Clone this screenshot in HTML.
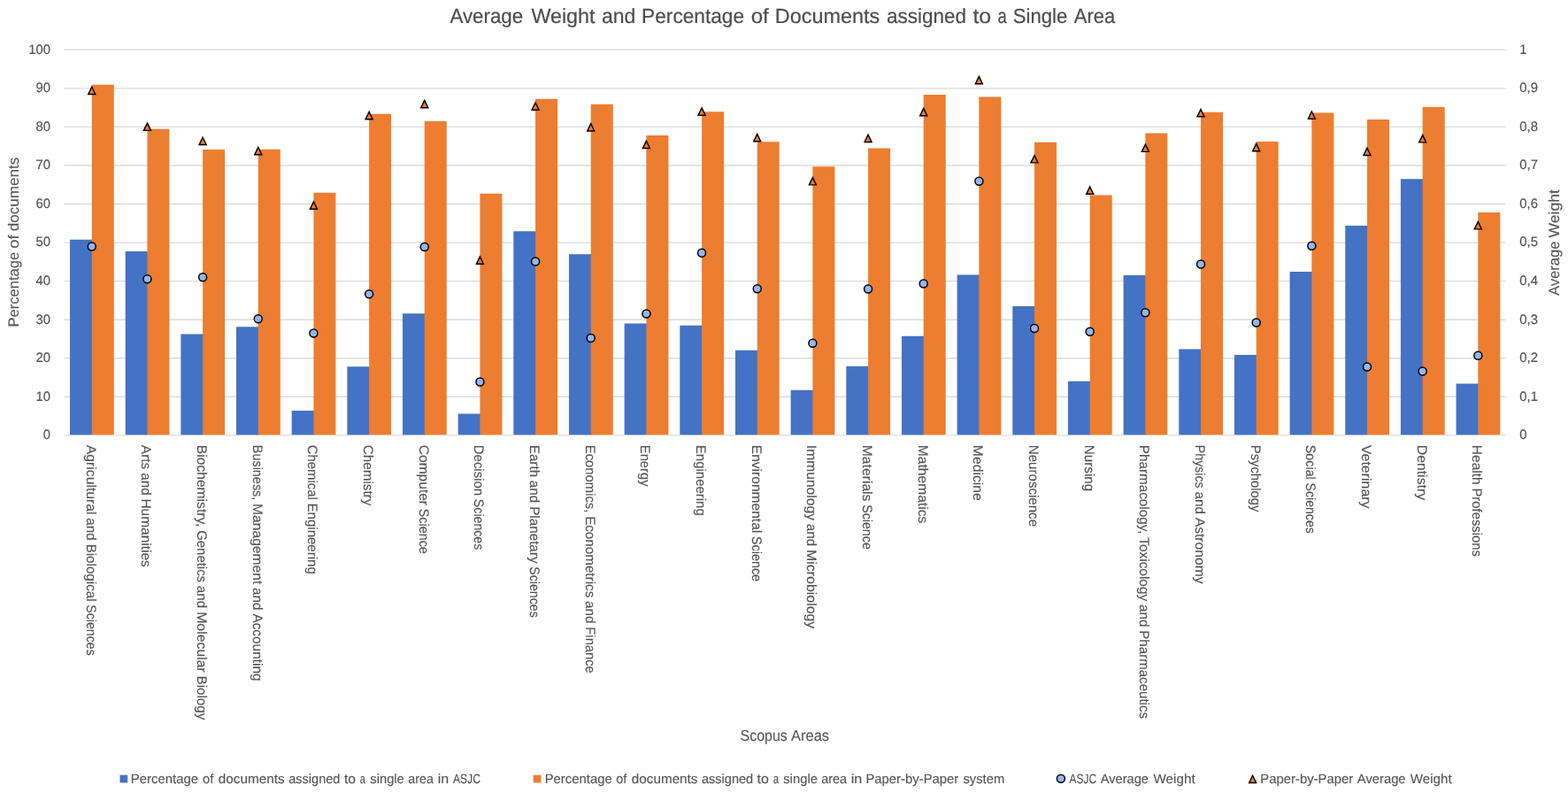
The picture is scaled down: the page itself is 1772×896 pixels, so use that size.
<!DOCTYPE html>
<html lang="en"><head><meta charset="utf-8"><title>Average Weight and Percentage of Documents assigned to a Single Area</title>
<style>html,body{margin:0;padding:0;background:#fff;}body{width:1772px;height:896px;overflow:hidden;}svg{display:block;}text{font-family:"Liberation Sans",sans-serif;fill:#535353;stroke:#535353;stroke-width:0.12px;text-rendering:geometricPrecision;}.t{fill:#4d4d4d;stroke:#4d4d4d;stroke-width:0.2px}.m{fill:#555;stroke:#555;stroke-width:0.1px}.d{fill:#525252;stroke:#525252;stroke-width:0.15px}</style></head><body>
<svg width="1772" height="896" viewBox="0 0 1772 896">
<rect width="1772" height="896" fill="#fff"/>
<g stroke="#DCDCDC" stroke-width="1.4" fill="none">
<line x1="72.30" y1="448.30" x2="1701.80" y2="448.30"/>
<line x1="72.30" y1="404.74" x2="1701.80" y2="404.74"/>
<line x1="72.30" y1="361.19" x2="1701.80" y2="361.19"/>
<line x1="72.30" y1="317.63" x2="1701.80" y2="317.63"/>
<line x1="72.30" y1="274.08" x2="1701.80" y2="274.08"/>
<line x1="72.30" y1="230.52" x2="1701.80" y2="230.52"/>
<line x1="72.30" y1="186.97" x2="1701.80" y2="186.97"/>
<line x1="72.30" y1="143.41" x2="1701.80" y2="143.41"/>
<line x1="72.30" y1="99.86" x2="1701.80" y2="99.86"/>
<line x1="72.30" y1="56.30" x2="1701.80" y2="56.30"/>
<path d="M72.30 491.85H79.03M128.78 491.85H141.69M191.44 491.85H204.36M254.11 491.85H267.02M316.77 491.85H329.68M379.43 491.85H392.34M442.09 491.85H455.00M504.75 491.85H517.66M567.41 491.85H580.33M630.08 491.85H642.99M692.74 491.85H705.65M755.40 491.85H768.31M818.06 491.85H830.98M880.73 491.85H893.64M943.39 491.85H956.30M1006.05 491.85H1018.96M1068.71 491.85H1081.62M1131.37 491.85H1144.29M1194.04 491.85H1206.95M1256.70 491.85H1269.61M1319.36 491.85H1332.27M1382.02 491.85H1394.93M1444.68 491.85H1457.60M1507.35 491.85H1520.26M1570.01 491.85H1582.92M1632.67 491.85H1645.58M1695.33 491.85H1701.80"/>
</g>
<g fill="#4472C4">
<rect x="79.03" y="270.75" width="25.75" height="220.70"/>
<rect x="141.69" y="284.00" width="25.75" height="207.45"/>
<rect x="204.36" y="377.50" width="25.75" height="113.95"/>
<rect x="267.02" y="369.25" width="25.75" height="122.20"/>
<rect x="329.68" y="464.00" width="25.75" height="27.45"/>
<rect x="392.34" y="414.25" width="25.75" height="77.20"/>
<rect x="455.00" y="354.25" width="25.75" height="137.20"/>
<rect x="517.66" y="467.50" width="25.75" height="23.95"/>
<rect x="580.33" y="261.25" width="25.75" height="230.20"/>
<rect x="642.99" y="287.25" width="25.75" height="204.20"/>
<rect x="705.65" y="365.50" width="25.75" height="125.95"/>
<rect x="768.31" y="367.75" width="25.75" height="123.70"/>
<rect x="830.98" y="395.75" width="25.75" height="95.70"/>
<rect x="893.64" y="440.75" width="25.75" height="50.70"/>
<rect x="956.30" y="413.75" width="25.75" height="77.70"/>
<rect x="1018.96" y="379.75" width="25.75" height="111.70"/>
<rect x="1081.62" y="310.50" width="25.75" height="180.95"/>
<rect x="1144.29" y="346.00" width="25.75" height="145.45"/>
<rect x="1206.95" y="430.75" width="25.75" height="60.70"/>
<rect x="1269.61" y="311.00" width="25.75" height="180.45"/>
<rect x="1332.27" y="394.50" width="25.75" height="96.95"/>
<rect x="1394.93" y="401.00" width="25.75" height="90.45"/>
<rect x="1457.60" y="307.00" width="25.75" height="184.45"/>
<rect x="1520.26" y="255.00" width="25.75" height="236.45"/>
<rect x="1582.92" y="202.25" width="25.75" height="289.20"/>
<rect x="1645.58" y="433.50" width="25.75" height="57.95"/>
</g>
<g fill="#ED7D31">
<rect x="103.78" y="95.75" width="25.00" height="395.70"/>
<rect x="166.44" y="145.75" width="25.00" height="345.70"/>
<rect x="229.11" y="169.00" width="25.00" height="322.45"/>
<rect x="291.77" y="168.75" width="25.00" height="322.70"/>
<rect x="354.43" y="217.75" width="25.00" height="273.70"/>
<rect x="417.09" y="128.75" width="25.00" height="362.70"/>
<rect x="479.75" y="137.00" width="25.00" height="354.45"/>
<rect x="542.41" y="218.75" width="25.00" height="272.70"/>
<rect x="605.08" y="111.75" width="25.00" height="379.70"/>
<rect x="667.74" y="117.75" width="25.00" height="373.70"/>
<rect x="730.40" y="153.00" width="25.00" height="338.45"/>
<rect x="793.06" y="126.25" width="25.00" height="365.20"/>
<rect x="855.73" y="160.25" width="25.00" height="331.20"/>
<rect x="918.39" y="188.25" width="25.00" height="303.20"/>
<rect x="981.05" y="167.50" width="25.00" height="323.95"/>
<rect x="1043.71" y="107.00" width="25.00" height="384.45"/>
<rect x="1106.37" y="109.50" width="25.00" height="381.95"/>
<rect x="1169.04" y="160.75" width="25.00" height="330.70"/>
<rect x="1231.70" y="220.50" width="25.00" height="270.95"/>
<rect x="1294.36" y="150.50" width="25.00" height="340.95"/>
<rect x="1357.02" y="126.75" width="25.00" height="364.70"/>
<rect x="1419.68" y="160.00" width="25.00" height="331.45"/>
<rect x="1482.35" y="127.50" width="25.00" height="363.95"/>
<rect x="1545.01" y="135.00" width="25.00" height="356.45"/>
<rect x="1607.67" y="121.00" width="25.00" height="370.45"/>
<rect x="1670.33" y="240.00" width="25.00" height="251.45"/>
</g>
<g>
<circle cx="103.78" cy="278.50" r="4.5" fill="#95B5EE" stroke="#000" stroke-width="1.5"/>
<circle cx="166.44" cy="315.25" r="4.5" fill="#95B5EE" stroke="#000" stroke-width="1.5"/>
<circle cx="229.11" cy="313.25" r="4.5" fill="#95B5EE" stroke="#000" stroke-width="1.5"/>
<circle cx="291.77" cy="360.25" r="4.5" fill="#95B5EE" stroke="#000" stroke-width="1.5"/>
<circle cx="354.43" cy="376.50" r="4.5" fill="#95B5EE" stroke="#000" stroke-width="1.5"/>
<circle cx="417.09" cy="332.25" r="4.5" fill="#95B5EE" stroke="#000" stroke-width="1.5"/>
<circle cx="479.75" cy="279.00" r="4.5" fill="#95B5EE" stroke="#000" stroke-width="1.5"/>
<circle cx="542.41" cy="431.50" r="4.5" fill="#95B5EE" stroke="#000" stroke-width="1.5"/>
<circle cx="605.08" cy="295.50" r="4.5" fill="#95B5EE" stroke="#000" stroke-width="1.5"/>
<circle cx="667.74" cy="382.00" r="4.5" fill="#95B5EE" stroke="#000" stroke-width="1.5"/>
<circle cx="730.40" cy="354.50" r="4.5" fill="#95B5EE" stroke="#000" stroke-width="1.5"/>
<circle cx="793.06" cy="285.75" r="4.5" fill="#95B5EE" stroke="#000" stroke-width="1.5"/>
<circle cx="855.73" cy="326.25" r="4.5" fill="#95B5EE" stroke="#000" stroke-width="1.5"/>
<circle cx="918.39" cy="387.75" r="4.5" fill="#95B5EE" stroke="#000" stroke-width="1.5"/>
<circle cx="981.05" cy="326.50" r="4.5" fill="#95B5EE" stroke="#000" stroke-width="1.5"/>
<circle cx="1043.71" cy="320.50" r="4.5" fill="#95B5EE" stroke="#000" stroke-width="1.5"/>
<circle cx="1106.37" cy="204.75" r="4.5" fill="#95B5EE" stroke="#000" stroke-width="1.5"/>
<circle cx="1169.04" cy="371.00" r="4.5" fill="#95B5EE" stroke="#000" stroke-width="1.5"/>
<circle cx="1231.70" cy="374.75" r="4.5" fill="#95B5EE" stroke="#000" stroke-width="1.5"/>
<circle cx="1294.36" cy="353.25" r="4.5" fill="#95B5EE" stroke="#000" stroke-width="1.5"/>
<circle cx="1357.02" cy="298.50" r="4.5" fill="#95B5EE" stroke="#000" stroke-width="1.5"/>
<circle cx="1419.68" cy="364.50" r="4.5" fill="#95B5EE" stroke="#000" stroke-width="1.5"/>
<circle cx="1482.35" cy="277.75" r="4.5" fill="#95B5EE" stroke="#000" stroke-width="1.5"/>
<circle cx="1545.01" cy="414.50" r="4.5" fill="#95B5EE" stroke="#000" stroke-width="1.5"/>
<circle cx="1607.67" cy="419.50" r="4.5" fill="#95B5EE" stroke="#000" stroke-width="1.5"/>
<circle cx="1670.33" cy="401.75" r="4.5" fill="#95B5EE" stroke="#000" stroke-width="1.5"/>
</g><g>
<path d="M103.78 98.25 L107.78 106.50 L99.78 106.50 Z" fill="#ED7D31" stroke="#000" stroke-width="1.45" stroke-linejoin="miter" stroke-miterlimit="6"/>
<path d="M166.44 139.10 L170.44 147.35 L162.44 147.35 Z" fill="#ED7D31" stroke="#000" stroke-width="1.45" stroke-linejoin="miter" stroke-miterlimit="6"/>
<path d="M229.11 155.25 L233.11 163.50 L225.11 163.50 Z" fill="#ED7D31" stroke="#000" stroke-width="1.45" stroke-linejoin="miter" stroke-miterlimit="6"/>
<path d="M291.77 166.40 L295.77 174.65 L287.77 174.65 Z" fill="#ED7D31" stroke="#000" stroke-width="1.45" stroke-linejoin="miter" stroke-miterlimit="6"/>
<path d="M354.43 227.90 L358.43 236.15 L350.43 236.15 Z" fill="#ED7D31" stroke="#000" stroke-width="1.45" stroke-linejoin="miter" stroke-miterlimit="6"/>
<path d="M417.09 126.40 L421.09 134.65 L413.09 134.65 Z" fill="#ED7D31" stroke="#000" stroke-width="1.45" stroke-linejoin="miter" stroke-miterlimit="6"/>
<path d="M479.75 113.40 L483.75 121.65 L475.75 121.65 Z" fill="#ED7D31" stroke="#000" stroke-width="1.45" stroke-linejoin="miter" stroke-miterlimit="6"/>
<path d="M542.41 290.00 L546.41 298.25 L538.41 298.25 Z" fill="#ED7D31" stroke="#000" stroke-width="1.45" stroke-linejoin="miter" stroke-miterlimit="6"/>
<path d="M605.08 116.00 L609.08 124.25 L601.08 124.25 Z" fill="#ED7D31" stroke="#000" stroke-width="1.45" stroke-linejoin="miter" stroke-miterlimit="6"/>
<path d="M667.74 139.75 L671.74 148.00 L663.74 148.00 Z" fill="#ED7D31" stroke="#000" stroke-width="1.45" stroke-linejoin="miter" stroke-miterlimit="6"/>
<path d="M730.40 159.25 L734.40 167.50 L726.40 167.50 Z" fill="#ED7D31" stroke="#000" stroke-width="1.45" stroke-linejoin="miter" stroke-miterlimit="6"/>
<path d="M793.06 121.90 L797.06 130.15 L789.06 130.15 Z" fill="#ED7D31" stroke="#000" stroke-width="1.45" stroke-linejoin="miter" stroke-miterlimit="6"/>
<path d="M855.73 151.50 L859.73 159.75 L851.73 159.75 Z" fill="#ED7D31" stroke="#000" stroke-width="1.45" stroke-linejoin="miter" stroke-miterlimit="6"/>
<path d="M918.39 200.60 L922.39 208.85 L914.39 208.85 Z" fill="#ED7D31" stroke="#000" stroke-width="1.45" stroke-linejoin="miter" stroke-miterlimit="6"/>
<path d="M981.05 152.25 L985.05 160.50 L977.05 160.50 Z" fill="#ED7D31" stroke="#000" stroke-width="1.45" stroke-linejoin="miter" stroke-miterlimit="6"/>
<path d="M1043.71 122.40 L1047.71 130.65 L1039.71 130.65 Z" fill="#ED7D31" stroke="#000" stroke-width="1.45" stroke-linejoin="miter" stroke-miterlimit="6"/>
<path d="M1106.37 86.40 L1110.37 94.65 L1102.37 94.65 Z" fill="#ED7D31" stroke="#000" stroke-width="1.45" stroke-linejoin="miter" stroke-miterlimit="6"/>
<path d="M1169.04 175.60 L1173.04 183.85 L1165.04 183.85 Z" fill="#ED7D31" stroke="#000" stroke-width="1.45" stroke-linejoin="miter" stroke-miterlimit="6"/>
<path d="M1231.70 211.00 L1235.70 219.25 L1227.70 219.25 Z" fill="#ED7D31" stroke="#000" stroke-width="1.45" stroke-linejoin="miter" stroke-miterlimit="6"/>
<path d="M1294.36 163.10 L1298.36 171.35 L1290.36 171.35 Z" fill="#ED7D31" stroke="#000" stroke-width="1.45" stroke-linejoin="miter" stroke-miterlimit="6"/>
<path d="M1357.02 123.50 L1361.02 131.75 L1353.02 131.75 Z" fill="#ED7D31" stroke="#000" stroke-width="1.45" stroke-linejoin="miter" stroke-miterlimit="6"/>
<path d="M1419.68 162.40 L1423.68 170.65 L1415.68 170.65 Z" fill="#ED7D31" stroke="#000" stroke-width="1.45" stroke-linejoin="miter" stroke-miterlimit="6"/>
<path d="M1482.35 126.00 L1486.35 134.25 L1478.35 134.25 Z" fill="#ED7D31" stroke="#000" stroke-width="1.45" stroke-linejoin="miter" stroke-miterlimit="6"/>
<path d="M1545.01 167.25 L1549.01 175.50 L1541.01 175.50 Z" fill="#ED7D31" stroke="#000" stroke-width="1.45" stroke-linejoin="miter" stroke-miterlimit="6"/>
<path d="M1607.67 152.60 L1611.67 160.85 L1603.67 160.85 Z" fill="#ED7D31" stroke="#000" stroke-width="1.45" stroke-linejoin="miter" stroke-miterlimit="6"/>
<path d="M1670.33 250.60 L1674.33 258.85 L1666.33 258.85 Z" fill="#ED7D31" stroke="#000" stroke-width="1.45" stroke-linejoin="miter" stroke-miterlimit="6"/>
</g>
<text transform="translate(508.20 25.80) rotate(0.02)" font-size="23.30" class="t"><tspan x="0.26" textLength="82.74" lengthAdjust="spacingAndGlyphs">Average</tspan> <tspan x="92.19" textLength="72.13" lengthAdjust="spacingAndGlyphs">Weight</tspan> <tspan x="171.74" textLength="38.42" lengthAdjust="spacingAndGlyphs">and</tspan> <tspan x="216.92" textLength="115.97" lengthAdjust="spacingAndGlyphs">Percentage</tspan> <tspan x="340.56" textLength="20.05" lengthAdjust="spacingAndGlyphs">of</tspan> <tspan x="367.66" textLength="118.37" lengthAdjust="spacingAndGlyphs">Documents</tspan> <tspan x="493.74" textLength="90.13" lengthAdjust="spacingAndGlyphs">assigned</tspan> <tspan x="591.24" textLength="20.77" lengthAdjust="spacingAndGlyphs">to</tspan> <tspan x="619.43" textLength="10.22" lengthAdjust="spacingAndGlyphs">a</tspan> <tspan x="636.48" textLength="61.67" lengthAdjust="spacingAndGlyphs">Single</tspan> <tspan x="705.66" textLength="46.42" lengthAdjust="spacingAndGlyphs">Area</tspan></text>
<text transform="translate(48.65 496.25) rotate(0.02)" font-size="15.30" class="d" textLength="8.25" lengthAdjust="spacingAndGlyphs">0</text>
<text transform="translate(40.40 452.69) rotate(0.02)" font-size="15.30" class="d" textLength="16.50" lengthAdjust="spacingAndGlyphs">10</text>
<text transform="translate(40.40 409.14) rotate(0.02)" font-size="15.30" class="d" textLength="16.50" lengthAdjust="spacingAndGlyphs">20</text>
<text transform="translate(40.40 365.58) rotate(0.02)" font-size="15.30" class="d" textLength="16.50" lengthAdjust="spacingAndGlyphs">30</text>
<text transform="translate(40.40 322.03) rotate(0.02)" font-size="15.30" class="d" textLength="16.50" lengthAdjust="spacingAndGlyphs">40</text>
<text transform="translate(40.40 278.48) rotate(0.02)" font-size="15.30" class="d" textLength="16.50" lengthAdjust="spacingAndGlyphs">50</text>
<text transform="translate(40.40 234.92) rotate(0.02)" font-size="15.30" class="d" textLength="16.50" lengthAdjust="spacingAndGlyphs">60</text>
<text transform="translate(40.40 191.37) rotate(0.02)" font-size="15.30" class="d" textLength="16.50" lengthAdjust="spacingAndGlyphs">70</text>
<text transform="translate(40.40 147.81) rotate(0.02)" font-size="15.30" class="d" textLength="16.50" lengthAdjust="spacingAndGlyphs">80</text>
<text transform="translate(40.40 104.26) rotate(0.02)" font-size="15.30" class="d" textLength="16.50" lengthAdjust="spacingAndGlyphs">90</text>
<text transform="translate(32.15 60.70) rotate(0.02)" font-size="15.30" class="d" textLength="24.75" lengthAdjust="spacingAndGlyphs">100</text>
<text transform="translate(1717.30 496.25) rotate(0.02)" font-size="15.30" class="d" textLength="8.25" lengthAdjust="spacingAndGlyphs">0</text>
<text transform="translate(1717.30 452.69) rotate(0.02)" font-size="15.30" class="d" textLength="20.70" lengthAdjust="spacingAndGlyphs">0,1</text>
<text transform="translate(1717.30 409.14) rotate(0.02)" font-size="15.30" class="d" textLength="20.70" lengthAdjust="spacingAndGlyphs">0,2</text>
<text transform="translate(1717.30 365.58) rotate(0.02)" font-size="15.30" class="d" textLength="20.70" lengthAdjust="spacingAndGlyphs">0,3</text>
<text transform="translate(1717.30 322.03) rotate(0.02)" font-size="15.30" class="d" textLength="20.70" lengthAdjust="spacingAndGlyphs">0,4</text>
<text transform="translate(1717.30 278.48) rotate(0.02)" font-size="15.30" class="d" textLength="20.70" lengthAdjust="spacingAndGlyphs">0,5</text>
<text transform="translate(1717.30 234.92) rotate(0.02)" font-size="15.30" class="d" textLength="20.70" lengthAdjust="spacingAndGlyphs">0,6</text>
<text transform="translate(1717.30 191.37) rotate(0.02)" font-size="15.30" class="d" textLength="20.70" lengthAdjust="spacingAndGlyphs">0,7</text>
<text transform="translate(1717.30 147.81) rotate(0.02)" font-size="15.30" class="d" textLength="20.70" lengthAdjust="spacingAndGlyphs">0,8</text>
<text transform="translate(1717.30 104.26) rotate(0.02)" font-size="15.30" class="d" textLength="20.70" lengthAdjust="spacingAndGlyphs">0,9</text>
<text transform="translate(1717.30 60.70) rotate(0.02)" font-size="15.30" class="d" textLength="8.25" lengthAdjust="spacingAndGlyphs">1</text>
<text transform="translate(97.68 502.80) rotate(90.02)" font-size="15.30"><tspan x="0.00" textLength="78.79" lengthAdjust="spacingAndGlyphs">Agricultural</tspan> <tspan x="82.56" textLength="25.52" lengthAdjust="spacingAndGlyphs">and</tspan> <tspan x="111.85" textLength="64.88" lengthAdjust="spacingAndGlyphs">Biological</tspan> <tspan x="180.51" textLength="57.49" lengthAdjust="spacingAndGlyphs">Sciences</tspan></text>
<text transform="translate(160.34 502.80) rotate(90.02)" font-size="15.30"><tspan x="0.00" textLength="27.59" lengthAdjust="spacingAndGlyphs">Arts</tspan> <tspan x="31.36" textLength="25.53" lengthAdjust="spacingAndGlyphs">and</tspan> <tspan x="60.66" textLength="77.34" lengthAdjust="spacingAndGlyphs">Humanities</tspan></text>
<text transform="translate(223.01 502.80) rotate(90.02)" font-size="15.30"><tspan x="0.00" textLength="92.62" lengthAdjust="spacingAndGlyphs">Biochemistry,</tspan> <tspan x="96.39" textLength="58.89" lengthAdjust="spacingAndGlyphs">Genetics</tspan> <tspan x="159.05" textLength="25.52" lengthAdjust="spacingAndGlyphs">and</tspan> <tspan x="188.35" textLength="68.65" lengthAdjust="spacingAndGlyphs">Molecular</tspan> <tspan x="260.77" textLength="49.73" lengthAdjust="spacingAndGlyphs">Biology</tspan></text>
<text transform="translate(285.67 502.80) rotate(90.02)" font-size="15.30"><tspan x="0.00" textLength="62.51" lengthAdjust="spacingAndGlyphs">Business,</tspan> <tspan x="66.29" textLength="91.20" lengthAdjust="spacingAndGlyphs">Management</tspan> <tspan x="161.26" textLength="25.54" lengthAdjust="spacingAndGlyphs">and</tspan> <tspan x="190.58" textLength="76.17" lengthAdjust="spacingAndGlyphs">Accounting</tspan></text>
<text transform="translate(348.33 502.80) rotate(90.02)" font-size="15.30"><tspan x="0.00" textLength="62.00" lengthAdjust="spacingAndGlyphs">Chemical</tspan> <tspan x="65.77" textLength="80.23" lengthAdjust="spacingAndGlyphs">Engineering</tspan></text>
<text transform="translate(410.99 502.80) rotate(90.02)" font-size="15.30" textLength="68.50" lengthAdjust="spacingAndGlyphs">Chemistry</text>
<text transform="translate(473.65 502.80) rotate(90.02)" font-size="15.30"><tspan x="0.00" textLength="68.26" lengthAdjust="spacingAndGlyphs">Computer</tspan> <tspan x="72.03" textLength="50.97" lengthAdjust="spacingAndGlyphs">Science</tspan></text>
<text transform="translate(536.31 502.80) rotate(90.02)" font-size="15.30"><tspan x="0.00" textLength="57.30" lengthAdjust="spacingAndGlyphs">Decision</tspan> <tspan x="61.07" textLength="57.43" lengthAdjust="spacingAndGlyphs">Sciences</tspan></text>
<text transform="translate(598.98 502.80) rotate(90.02)" font-size="15.30"><tspan x="0.00" textLength="36.29" lengthAdjust="spacingAndGlyphs">Earth</tspan> <tspan x="40.06" textLength="25.51" lengthAdjust="spacingAndGlyphs">and</tspan> <tspan x="69.34" textLength="64.42" lengthAdjust="spacingAndGlyphs">Planetary</tspan> <tspan x="137.53" textLength="57.47" lengthAdjust="spacingAndGlyphs">Sciences</tspan></text>
<text transform="translate(661.64 502.80) rotate(90.02)" font-size="15.30"><tspan x="0.00" textLength="76.56" lengthAdjust="spacingAndGlyphs">Economics,</tspan> <tspan x="80.33" textLength="92.12" lengthAdjust="spacingAndGlyphs">Econometrics</tspan> <tspan x="176.23" textLength="25.55" lengthAdjust="spacingAndGlyphs">and</tspan> <tspan x="205.56" textLength="52.44" lengthAdjust="spacingAndGlyphs">Finance</tspan></text>
<text transform="translate(724.30 502.80) rotate(90.02)" font-size="15.30" textLength="46.75" lengthAdjust="spacingAndGlyphs">Energy</text>
<text transform="translate(786.96 502.80) rotate(90.02)" font-size="15.30" textLength="80.00" lengthAdjust="spacingAndGlyphs">Engineering</text>
<text transform="translate(849.62 502.80) rotate(90.02)" font-size="15.30"><tspan x="0.00" textLength="99.49" lengthAdjust="spacingAndGlyphs">Environmental</tspan> <tspan x="103.26" textLength="50.99" lengthAdjust="spacingAndGlyphs">Science</tspan></text>
<text transform="translate(912.29 502.80) rotate(90.02)" font-size="15.30"><tspan x="0.00" textLength="85.23" lengthAdjust="spacingAndGlyphs">Immunology</tspan> <tspan x="89.00" textLength="25.53" lengthAdjust="spacingAndGlyphs">and</tspan> <tspan x="118.30" textLength="89.20" lengthAdjust="spacingAndGlyphs">Microbiology</tspan></text>
<text transform="translate(974.95 502.80) rotate(90.02)" font-size="15.30"><tspan x="0.00" textLength="63.66" lengthAdjust="spacingAndGlyphs">Materials</tspan> <tspan x="67.41" textLength="50.59" lengthAdjust="spacingAndGlyphs">Science</tspan></text>
<text transform="translate(1037.61 502.80) rotate(90.02)" font-size="15.30" textLength="88.50" lengthAdjust="spacingAndGlyphs">Mathematics</text>
<text transform="translate(1100.27 502.80) rotate(90.02)" font-size="15.30" textLength="63.00" lengthAdjust="spacingAndGlyphs">Medicine</text>
<text transform="translate(1162.94 502.80) rotate(90.02)" font-size="15.30" textLength="92.25" lengthAdjust="spacingAndGlyphs">Neuroscience</text>
<text transform="translate(1225.60 502.80) rotate(90.02)" font-size="15.30" textLength="52.50" lengthAdjust="spacingAndGlyphs">Nursing</text>
<text transform="translate(1288.26 502.80) rotate(90.02)" font-size="15.30"><tspan x="0.00" textLength="100.67" lengthAdjust="spacingAndGlyphs">Pharmacology,</tspan> <tspan x="104.45" textLength="71.95" lengthAdjust="spacingAndGlyphs">Toxicology</tspan> <tspan x="180.18" textLength="25.55" lengthAdjust="spacingAndGlyphs">and</tspan> <tspan x="209.51" textLength="99.74" lengthAdjust="spacingAndGlyphs">Pharmaceutics</tspan></text>
<text transform="translate(1350.92 502.80) rotate(90.02)" font-size="15.30"><tspan x="0.00" textLength="48.87" lengthAdjust="spacingAndGlyphs">Physics</tspan> <tspan x="52.64" textLength="25.52" lengthAdjust="spacingAndGlyphs">and</tspan> <tspan x="81.93" textLength="74.82" lengthAdjust="spacingAndGlyphs">Astronomy</tspan></text>
<text transform="translate(1413.58 502.80) rotate(90.02)" font-size="15.30" textLength="75.50" lengthAdjust="spacingAndGlyphs">Psychology</text>
<text transform="translate(1476.25 502.80) rotate(90.02)" font-size="15.30"><tspan x="0.00" textLength="39.00" lengthAdjust="spacingAndGlyphs">Social</tspan> <tspan x="42.75" textLength="57.25" lengthAdjust="spacingAndGlyphs">Sciences</tspan></text>
<text transform="translate(1538.91 502.80) rotate(90.02)" font-size="15.30" textLength="71.75" lengthAdjust="spacingAndGlyphs">Veterinary</text>
<text transform="translate(1601.57 502.80) rotate(90.02)" font-size="15.30" textLength="62.25" lengthAdjust="spacingAndGlyphs">Dentistry</text>
<text transform="translate(1664.23 502.80) rotate(90.02)" font-size="15.30"><tspan x="0.00" textLength="44.88" lengthAdjust="spacingAndGlyphs">Health</tspan> <tspan x="48.65" textLength="77.60" lengthAdjust="spacingAndGlyphs">Professions</tspan></text>
<text transform="translate(836.50 836.80) rotate(0.02)" font-size="17.50" class="m"><tspan x="0.00" textLength="53.34" lengthAdjust="spacingAndGlyphs">Scopus</tspan> <tspan x="57.57" textLength="42.93" lengthAdjust="spacingAndGlyphs">Areas</tspan></text>
<text transform="translate(21.20 369.40) rotate(-89.98)" font-size="16.70" class="m"><tspan x="0.00" textLength="84.47" lengthAdjust="spacingAndGlyphs">Percentage</tspan> <tspan x="88.63" textLength="15.32" lengthAdjust="spacingAndGlyphs">of</tspan> <tspan x="108.10" textLength="83.70" lengthAdjust="spacingAndGlyphs">documents</tspan></text>
<text transform="translate(1762.00 334.00) rotate(-89.98)" font-size="16.90" class="m"><tspan x="0.00" textLength="61.38" lengthAdjust="spacingAndGlyphs">Average</tspan> <tspan x="65.56" textLength="54.44" lengthAdjust="spacingAndGlyphs">Weight</tspan></text>
<rect x="135.5" y="875.7" width="8.7" height="8.7" fill="#4472C4"/>
<text transform="translate(148.00 884.70) rotate(0.02)" font-size="15.00"><tspan x="-0.15" textLength="76.21" lengthAdjust="spacingAndGlyphs">Percentage</tspan> <tspan x="81.06" textLength="12.20" lengthAdjust="spacingAndGlyphs">of</tspan> <tspan x="98.81" textLength="74.94" lengthAdjust="spacingAndGlyphs">documents</tspan> <tspan x="178.26" textLength="58.11" lengthAdjust="spacingAndGlyphs">assigned</tspan> <tspan x="240.90" textLength="13.15" lengthAdjust="spacingAndGlyphs">to</tspan> <tspan x="258.87" textLength="6.09" lengthAdjust="spacingAndGlyphs">a</tspan> <tspan x="270.29" textLength="38.54" lengthAdjust="spacingAndGlyphs">single</tspan> <tspan x="313.33" textLength="28.47" lengthAdjust="spacingAndGlyphs">area</tspan> <tspan x="346.81" textLength="12.55" lengthAdjust="spacingAndGlyphs">in</tspan> <tspan x="363.93" textLength="31.00" lengthAdjust="spacingAndGlyphs">ASJC</tspan></text>
<rect x="602.7" y="875.7" width="8.7" height="8.7" fill="#ED7D31"/>
<text transform="translate(615.30 884.70) rotate(0.02)" font-size="15.00"><tspan x="0.36" textLength="76.07" lengthAdjust="spacingAndGlyphs">Percentage</tspan> <tspan x="81.01" textLength="12.08" lengthAdjust="spacingAndGlyphs">of</tspan> <tspan x="98.57" textLength="74.61" lengthAdjust="spacingAndGlyphs">documents</tspan> <tspan x="177.71" textLength="58.15" lengthAdjust="spacingAndGlyphs">assigned</tspan> <tspan x="240.31" textLength="13.36" lengthAdjust="spacingAndGlyphs">to</tspan> <tspan x="258.56" textLength="6.18" lengthAdjust="spacingAndGlyphs">a</tspan> <tspan x="269.92" textLength="38.72" lengthAdjust="spacingAndGlyphs">single</tspan> <tspan x="312.97" textLength="28.71" lengthAdjust="spacingAndGlyphs">area</tspan> <tspan x="346.39" textLength="12.64" lengthAdjust="spacingAndGlyphs">in</tspan> <tspan x="363.09" textLength="104.92" lengthAdjust="spacingAndGlyphs">Paper-by-Paper</tspan> <tspan x="473.08" textLength="46.89" lengthAdjust="spacingAndGlyphs">system</tspan></text>
<circle cx="1198.90" cy="879.80" r="4.5" fill="#95B5EE" stroke="#000" stroke-width="1.5"/>
<text transform="translate(1208.00 884.70) rotate(0.02)" font-size="15.00"><tspan x="0.50" textLength="30.52" lengthAdjust="spacingAndGlyphs">ASJC</tspan> <tspan x="35.69" textLength="54.33" lengthAdjust="spacingAndGlyphs">Average</tspan> <tspan x="95.52" textLength="47.14" lengthAdjust="spacingAndGlyphs">Weight</tspan></text>
<path d="M1415.60 876.30 L1419.60 884.55 L1411.60 884.55 Z" fill="#ED7D31" stroke="#000" stroke-width="1.45" stroke-linejoin="miter" stroke-miterlimit="6"/>
<text transform="translate(1423.70 884.70) rotate(0.02)" font-size="15.00"><tspan x="0.67" textLength="104.93" lengthAdjust="spacingAndGlyphs">Paper-by-Paper</tspan> <tspan x="110.17" textLength="54.73" lengthAdjust="spacingAndGlyphs">Average</tspan> <tspan x="170.12" textLength="46.87" lengthAdjust="spacingAndGlyphs">Weight</tspan></text>
</svg></body></html>
